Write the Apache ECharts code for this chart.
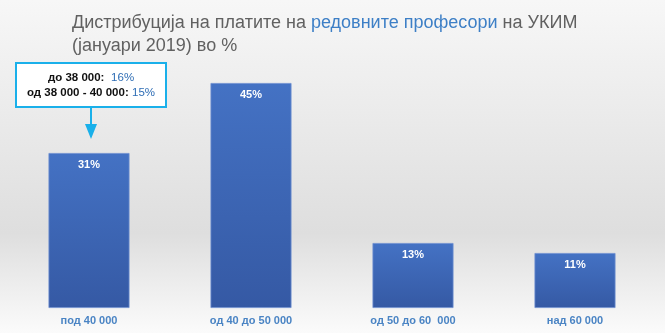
<!DOCTYPE html>
<html>
<head>
<meta charset="utf-8">
<script src="https://cdn.jsdelivr.net/npm/echarts@6/dist/echarts.min.js"></script>
<style>
  html, body { margin: 0; padding: 0; }
  #chart { width: 665px; height: 333px; }
</style>
</head>
<body>
<div id="chart"></div>
<script>
// Salary brackets (MKD) and share of full professors in each (%)
const categories = ['под 40 000', 'од 40 до 50 000', 'од 50 до 60  000', 'над 60 000'];
const shares = [31, 45, 13, 11];
// Breakdown of the lowest bracket shown in the callout
const calloutLabels = ['до 38 000:', 'од 38 000 - 40 000:'];
const calloutValues = [16, 15];

const FONT = '"Liberation Sans", Arial, sans-serif';
const BLUE_TXT = '#4a84c4';

const chart = echarts.init(document.getElementById('chart'), null, { renderer: 'canvas' });

const option = {
  animation: false,
  backgroundColor: new echarts.graphic.LinearGradient(0, 0, 0, 1, [
    { offset: 0, color: '#f7f7f7' },
    { offset: 0.7, color: '#dedede' },
    { offset: 1, color: '#fbfbfb' }
  ]),
  title: {
    left: 72,
    top: 12,
    padding: 0,
    text: '{g|Дистрибуција на платите на }{b|редовните професори}{g| на УКИМ}\n{g|(јануари 2019) во %}',
    textStyle: {
      fontWeight: 'normal',
      rich: {
        g: { color: '#616161', fontSize: 18, fontWeight: 'normal', fontFamily: FONT, lineHeight: 23 },
        b: { color: '#3d7fc6', fontSize: 18, fontWeight: 'normal', fontFamily: FONT, lineHeight: 23 }
      }
    }
  },
  grid: { left: 8, right: 9, top: 58, bottom: 25, containLabel: false },
  xAxis: {
    type: 'category',
    data: categories,
    axisLine: { show: false },
    axisTick: { show: false },
    axisLabel: {
      color: BLUE_TXT, fontSize: 11, fontWeight: 'bold', fontFamily: FONT, margin: 7
    }
  },
  yAxis: {
    type: 'value', min: 0, max: 50,
    show: false,
    splitLine: { show: false }
  },
  series: [{
    type: 'bar',
    data: shares,
    barCategoryGap: '50%',
    itemStyle: {
      color: new echarts.graphic.LinearGradient(0, 0, 0, 1, [
        { offset: 0, color: '#4472c4' },
        { offset: 1, color: '#3559a4' }
      ]),
      borderColor: '#6f8fd0',
      borderWidth: 0.8
    },
    label: {
      show: true,
      position: 'insideTop',
      distance: 6,
      formatter: '{c}%',
      color: '#ffffff',
      fontSize: 11,
      fontWeight: 'bold',
      fontFamily: FONT
    }
  }]
};

chart.setOption(option);

// Callout with the breakdown of the first bracket, pointing at the first bar
const barTop = chart.convertToPixel({ xAxisIndex: 0, yAxisIndex: 0 }, [0, shares[0]]);
const cx = barTop[0] + 2;
const boxW = 150, boxH = 44, boxTop = 63;
const arrowEnd = barTop[1] - 14;
const headH = 15, headHalfW = 6;

chart.setOption({
  graphic: [
    {
      type: 'rect',
      shape: { x: cx - boxW / 2, y: boxTop, width: boxW, height: boxH },
      style: { fill: '#ffffff', stroke: '#1ab0ea', lineWidth: 2 },
      z: 10
    },
    {
      type: 'text',
      x: cx,
      y: boxTop + 7,
      style: {
        text: '{k|' + calloutLabels[0] + '}  {v|' + calloutValues[0] + '%}\n{k|' + calloutLabels[1] + '} {v|' + calloutValues[1] + '%}',
        align: 'center',
        rich: {
          k: { fill: '#111111', fontSize: 11.5, fontWeight: 'bold', fontFamily: FONT, lineHeight: 15 },
          v: { fill: '#2e6db5', fontSize: 11.5, fontFamily: FONT, lineHeight: 15 }
        }
      },
      z: 11
    },
    {
      type: 'line',
      shape: { x1: cx, y1: boxTop + boxH + 1, x2: cx, y2: arrowEnd - headH + 1 },
      style: { stroke: '#1ab0ea', lineWidth: 2 },
      z: 10
    },
    {
      type: 'polygon',
      shape: { points: [[cx - headHalfW, arrowEnd - headH], [cx + headHalfW, arrowEnd - headH], [cx, arrowEnd]] },
      style: { fill: '#1ab0ea' },
      z: 10
    }
  ]
});
</script>
</body>
</html>
